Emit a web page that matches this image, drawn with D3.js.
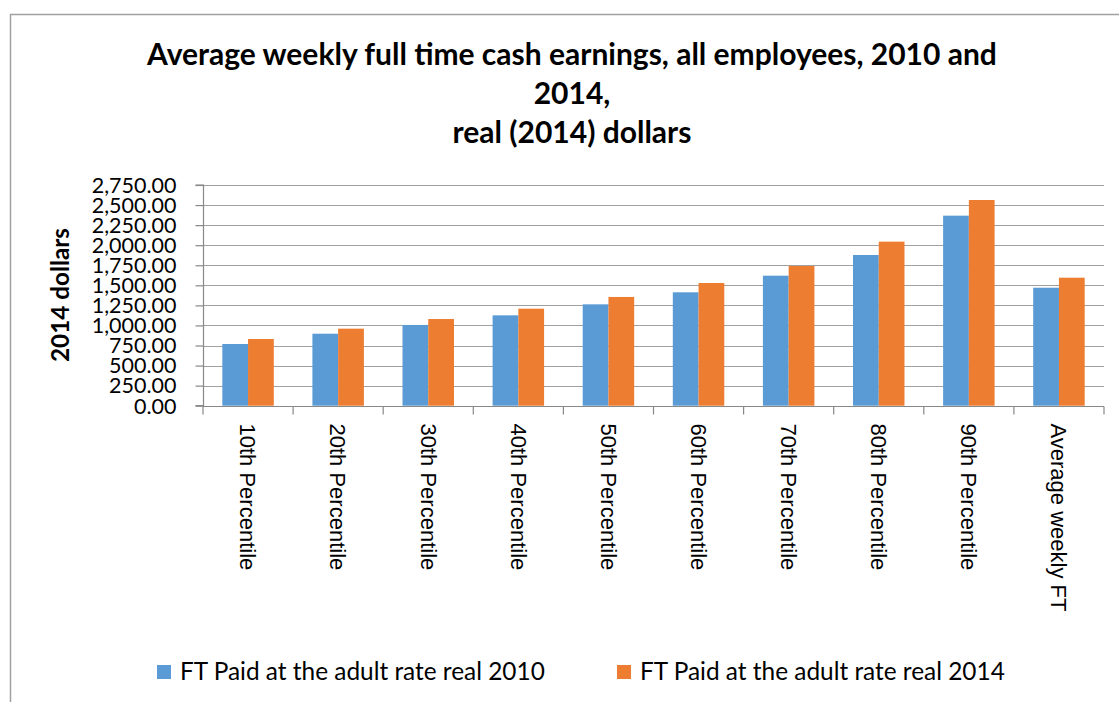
<!DOCTYPE html>
<html>
<head>
<meta charset="utf-8">
<script src="https://cdn.jsdelivr.net/npm/d3@7"></script>
<style>
  body { margin: 0; background: #fff; }
  svg { display: block; }
</style>
</head>
<body>
<svg id="chart" width="1119" height="702"></svg>
<script>
const categories = ['10th Percentile', '20th Percentile', '30th Percentile', '40th Percentile',
                    '50th Percentile', '60th Percentile', '70th Percentile', '80th Percentile',
                    '90th Percentile', 'Average weekly FT']
const seriesNames = ['FT Paid at the adult rate real 2010', 'FT Paid at the adult rate real 2014']
const real2010 = [769, 897, 1006, 1126, 1263, 1413, 1620, 1878, 2368, 1470]
const real2014 = [831, 960, 1080, 1209, 1355, 1529, 1741, 2044, 2563, 1595]
const yTicks = [0, 250, 500, 750, 1000, 1250, 1500, 1750, 2000, 2250, 2500, 2750]
const titleLines = ['Average weekly full time cash earnings, all employees, 2010 and', '2014,', 'real (2014) dollars']
const colors = ['#5b9bd5', '#ed7d31']

const svg = d3.select('#chart')
const font = 'Lato, Carlito, "Open Sans", sans-serif'

// fit a text node to a target width by adjusting font size
const fit = (sel, width) => {
    const len = sel.node().getComputedTextLength()
    const size = parseFloat(sel.style('font-size'))
    sel.style('font-size', (size * width / len) + 'px')
}

// outer chart border (cut off at right/bottom)
svg.append('path')
    .attr('d', 'M10.5,702 V14.5 H1119')
    .attr('fill', 'none')
    .attr('stroke', '#a0a0a0')
    .attr('stroke-width', 1.5)

// title
const title = svg.append('g')
titleLines.forEach((t, i) => {
    title.append('text')
        .attr('x', 572)
        .attr('y', 65 + i * 39)
        .attr('text-anchor', 'middle')
        .style('font-family', font)
        .style('font-weight', 'bold')
        .style('font-size', '27px')
        .text(t)
})
fit(title.select('text'), 850)
const titleSize = title.select('text').style('font-size')
title.selectAll('text').style('font-size', titleSize)

const pLeft = 203, pRight = 1104, pTop = 185, pBottom = 405.7

const x = d3.scaleBand().domain(categories).range([pLeft, pRight]).paddingInner(0).paddingOuter(0)
const xs = d3.scaleBand().domain([0, 1]).range([x.bandwidth() * 0.75 / 3.5, x.bandwidth() * 2.75 / 3.5])
const y = d3.scaleLinear().domain([0, 2750]).range([pBottom, pTop])

// gridlines
svg.append('g')
    .selectAll('line')
    .data(yTicks.filter(d => d > 0))
    .join('line')
    .attr('x1', pLeft).attr('x2', pRight)
    .attr('y1', d => Math.round(y(d)) + 0.5).attr('y2', d => Math.round(y(d)) + 0.5)
    .attr('stroke', '#a0a0a0')
    .attr('stroke-width', 1.2)

// bars
const rows = categories.map((c, i) => ({ c, vals: [real2010[i], real2014[i]] }))
svg.append('g')
    .selectAll('g')
    .data(rows)
    .join('g')
    .attr('transform', d => `translate(${x(d.c)},0)`)
    .selectAll('rect')
    .data(d => d.vals.map((v, k) => ({ v, k })))
    .join('rect')
    .attr('x', d => xs(d.k))
    .attr('width', xs.bandwidth())
    .attr('y', d => y(d.v))
    .attr('height', d => y(0) - y(d.v))
    .attr('fill', d => colors[d.k])

// y axis
const yAxis = svg.append('g')
    .attr('transform', `translate(${pLeft + 0.5},0)`)
    .call(d3.axisLeft(y).tickValues(yTicks).tickSize(8).tickPadding(19)
        .tickFormat(d3.format(',.2f')))
yAxis.select('.domain').attr('stroke', '#888').attr('stroke-width', 1.2).attr('d', `M-8,${y(2750)}H0V${y(0)}H-8`)
yAxis.selectAll('.tick line').attr('stroke', '#888').attr('stroke-width', 1.2)
yAxis.selectAll('.tick text')
    .style('font-family', font)
    .style('font-size', '21.5px')
    .attr('fill', '#000')
    .attr('dy', '0.34em')

// x axis
const xAxis = svg.append('g')
    .attr('transform', `translate(0,${Math.round(pBottom) + 0.5})`)
xAxis.append('line')
    .attr('x1', pLeft).attr('x2', pRight)
    .attr('stroke', '#888').attr('stroke-width', 1.2)
xAxis.selectAll('.tk')
    .data(categories.map(c => x(c)).concat([pRight]))
    .join('line')
    .attr('class', 'tk')
    .attr('x1', d => d).attr('x2', d => d)
    .attr('y1', 0).attr('y2', 8)
    .attr('stroke', '#888').attr('stroke-width', 1.2)
xAxis.selectAll('.lbl')
    .data(categories)
    .join('text')
    .attr('class', 'lbl')
    .attr('transform', d => `translate(${x(d) + x.bandwidth() / 2},17) rotate(90)`)
    .attr('dy', '0.35em')
    .style('font-family', '"Liberation Sans", Arial, sans-serif')
    .style('font-size', '22px')
    .text(d => d)

// y axis title
const yTitle = svg.append('text')
    .attr('transform', 'translate(60,295) rotate(-90)')
    .attr('text-anchor', 'middle')
    .attr('dy', '0.35em')
    .style('font-family', font)
    .style('font-weight', 'bold')
    .style('font-size', '22px')
    .text('2014 dollars')
fit(yTitle, 134)

// legend
const legendX = [157, 617]
const legend = svg.append('g')
    .selectAll('g')
    .data(seriesNames)
    .join('g')
    .attr('transform', (d, i) => `translate(${legendX[i]},665)`)
legend.append('rect')
    .attr('width', 14).attr('height', 14)
    .attr('fill', (d, i) => colors[i])
legend.append('text')
    .attr('x', 23)
    .attr('y', 15)
    .style('font-family', font)
    .style('font-size', '22px')
    .text(d => d)
    .each(function () { fit(d3.select(this), 365) })
</script>
</body>
</html>
